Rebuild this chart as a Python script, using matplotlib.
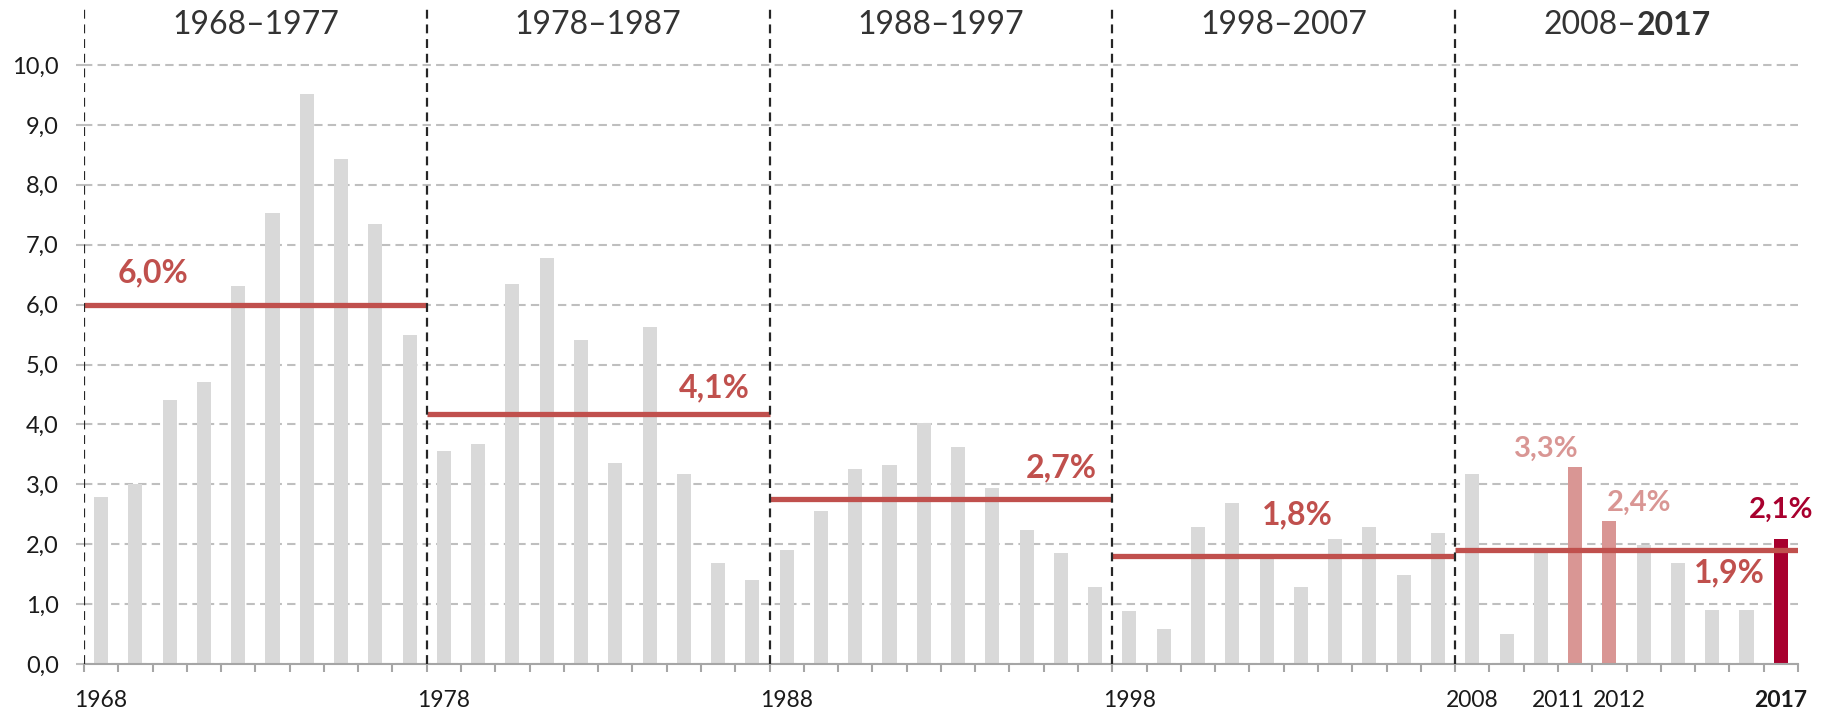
import matplotlib.pyplot as plt

plt.rcParams['font.family'] = ['Lato', 'DejaVu Sans']

# Jahreswerte (Inflation in %), 1968-2017
years = list(range(1968, 2018))
inflation = [2.79, 3.00, 4.41, 4.70, 6.31, 7.53, 9.51, 8.43, 7.34, 5.49,
             3.56, 3.67, 6.34, 6.78, 5.41, 3.35, 5.63, 3.18, 1.68, 1.40,
             1.91, 2.55, 3.25, 3.33, 4.02, 3.63, 2.94, 2.24, 1.85, 1.29,
             0.89, 0.58, 2.29, 2.68, 1.80, 1.29, 2.09, 2.29, 1.49, 2.19,
             3.18, 0.50, 1.88, 3.29, 2.39, 1.99, 1.69, 0.90, 0.90, 2.09]

# Jahrzehnte und Durchschnittswerte
decades = ['1968–1977', '1978–1987', '1988–1997', '1998–2007', '2008–2017']
decade_avg = [6.0, 4.17, 2.75, 1.81, 1.90]
avg_labels = ['6,0%', '4,1%', '2,7%', '1,8%', '1,9%']
# Position der Durchschnitts-Beschriftung (Jahr, Abstand zur Linie)
avg_label_x = [1969.5, 1985.9, 1996.0, 2002.9, 2015.5]
avg_label_dy = [0.53, 0.44, 0.52, 0.68, -0.38]

highlight_light = [2011, 2012]
highlight_light_dx = [-0.85, 0.86]
highlight_dark = 2017
tick_years = [1968, 1978, 1988, 1998, 2008, 2011, 2012, 2017]
# horizontale Verschiebung der Jahreslabels in Punkten (2011/2012 auseinandergeschoben)
tick_shift = [0, 0, 0, 0, 0, -12, 7, 0]

grey = '#D9D9D9'
pink = '#D99694'
darkred = '#A8002E'
red = '#C0504D'

fig = plt.figure(figsize=(18.29, 7.10), dpi=100)
ax = fig.add_axes([0.0459, 0.0648, 0.9371, 0.928])

colors = []
for y in years:
    if y == highlight_dark:
        colors.append(darkred)
    elif y in highlight_light:
        colors.append(pink)
    else:
        colors.append(grey)
ax.bar(years, inflation, width=0.41, color=colors, zorder=2)

# Durchschnittslinien pro Jahrzehnt
for i, avg in enumerate(decade_avg):
    start = years[i * 10] - 0.5
    ax.hlines(avg, start, start + 10, color=red, lw=3.8, zorder=3)
    ax.text(avg_label_x[i], avg + avg_label_dy[i], avg_labels[i], ha='center', va='center',
            fontsize=23, fontweight='bold', color=red, zorder=4)

# Beschriftung der hervorgehobenen Jahre
for y, dx in zip(highlight_light, highlight_light_dx):
    v = inflation[years.index(y)]
    ax.text(y + dx, v + 0.17, '{:.1f}%'.format(v).replace('.', ','), ha='center', va='baseline',
            fontsize=21, fontweight='bold', color=pink)
v = inflation[years.index(highlight_dark)]
ax.text(highlight_dark, v + 0.35, '{:.1f}%'.format(v).replace('.', ','), ha='center', va='baseline',
        fontsize=21, fontweight='bold', color=darkred)

# Trennlinien zwischen den Jahrzehnten
for i in range(len(decades)):
    ax.vlines(years[i * 10] - 0.5, 0, 11, color='#262626', lw=1.6,
              linestyles=(0, (4, 2.6)), zorder=3)

# Überschriften
head_y = 10.66
for i, d in enumerate(decades[:-1]):
    ax.text(years[i * 10] + 4.5, head_y, d, ha='center', va='center', fontsize=23, color='#333333')
cx = years[40] + 4.5
t1 = ax.text(cx, head_y, decades[-1][:5], ha='right', va='center', fontsize=23, color='#333333')
t2 = ax.text(cx, head_y, decades[-1][5:], ha='left', va='center', fontsize=23, color='#333333',
             fontweight='bold')
fig.canvas.draw()
r = fig.canvas.get_renderer()
inv = ax.transData.inverted()
w1 = t1.get_window_extent(r).width
w2 = t2.get_window_extent(r).width
px = ax.transData.transform((cx, head_y))[0] - (w1 + w2) / 2 + w1
split = inv.transform((px, 0))[0]
t1.set_x(split)
t2.set_x(split)

# Achsen
ax.set_xlim(1967.5, 2017.5)
ax.set_ylim(0, 11)
yt = list(range(0, 11))
ax.set_yticks(yt)
ax.set_yticklabels(['{:.1f}'.format(t).replace('.', ',') for t in yt], fontsize=17, color='#1a1a1a')
ax.yaxis.grid(True, linestyle=(0, (4, 2.5)), color='#BFBFBF', lw=1.5, zorder=0)
ax.set_axisbelow(True)
ax.tick_params(axis='y', length=6, color='#BFBFBF', width=1.5, pad=12)

# Jahreslabels: normale Ticklabels, verschobene als Annotation
label_pad = 19
ax.set_xticks(tick_years)
ax.set_xticklabels(['' if sh else str(t) for t, sh in zip(tick_years, tick_shift)],
                   fontsize=16.5, color='#1a1a1a')
ax.get_xticklabels()[-1].set_fontweight('bold')
for t, sh in zip(tick_years, tick_shift):
    if sh:
        ax.annotate(str(t), xy=(t, 0), xycoords=('data', 'axes fraction'),
                    xytext=(sh, -label_pad), textcoords='offset points',
                    ha='center', va='top', fontsize=16.5, color='#1a1a1a')
ax.set_xticks([y - 0.5 for y in years] + [years[-1] + 0.5], minor=True)
ax.tick_params(axis='x', which='major', length=0, pad=label_pad)
ax.tick_params(axis='x', which='minor', length=6, color='#A6A6A6', width=1.5)

for s in ['top', 'right', 'left']:
    ax.spines[s].set_visible(False)
ax.spines['bottom'].set_color('#A6A6A6')
ax.spines['bottom'].set_linewidth(1.5)

fig.savefig('out.png', dpi=100)
